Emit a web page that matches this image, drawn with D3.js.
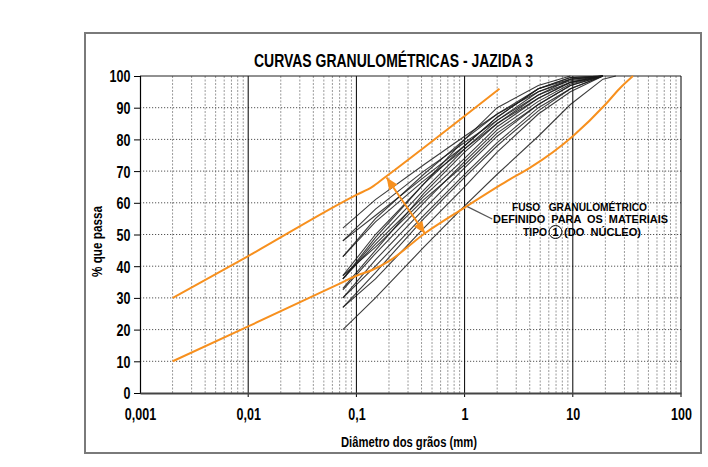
<!DOCTYPE html>
<html><head><meta charset="utf-8">
<script src="https://cdn.jsdelivr.net/npm/d3@7"></script>
<style>
html,body{margin:0;padding:0;background:#fff;}
svg text{font-family:"Liberation Sans Narrow","Arial Narrow","Liberation Sans",Arial,sans-serif;font-weight:bold;fill:#000;}
</style></head>
<body>
<svg id="chart" width="708" height="467"></svg>
<script>
// ---- data ----
const title = "CURVAS GRANULOMÉTRICAS - JAZIDA 3";
const xTickValues = [0.001, 0.01, 0.1, 1, 10, 100];
const xTickLabels = ["0,001", "0,01", "0,1", "1", "10", "100"];
const yTickValues = [0, 10, 20, 30, 40, 50, 60, 70, 80, 90, 100];
const xTitle = "Diâmetro dos grãos (mm)";
const yTitle = "% que passa";

// sieve sizes (mm) for the black curves
const sieves = [0.075, 0.15, 0.42, 1.0, 2.0, 4.8, 9.5, 19, 25];
const curve01 = [52, 61, 72, 81, 88, 95, 98.5, 100];
const curve02 = [48, 58, 70, 79, 86, 94, 98, 100];
const curve03 = [43, 55, 69, 80, 88, 96, 99, 100];
const curve04 = [37, 50, 66, 78, 87, 96, 99.5, 100];
const curve05 = [36, 48, 64, 77, 86, 95, 99, 100];
const curve06 = [36, 47, 62, 74, 84, 93, 98, 100];
const curve07 = [32.5, 44, 60, 73, 83, 92, 97.5, 100];
const curve08 = [30, 42, 58, 71, 81, 91, 97, 100];
const curve09 = [30, 40, 56, 69, 79, 90, 96, 100];
const curve10 = [27, 38, 55, 68, 78, 89, 96, 100];
const curve11 = [27, 36, 52, 65, 76, 88, 95, 100];
const curve12 = [20, 30, 46, 59, 69, 81, 91, 99, 100];
const curve13 = [36, 49, 66, 80, 90, 97, 100];
const curve14 = [43, 54, 67, 77, 85, 93, 98, 100];
const curve15 = [37, 46, 61, 72, 82, 91, 97, 100];
const curve16 = [33, 45, 63, 76, 85, 94, 99, 100];
const curve17 = [48, 56, 68, 78, 87, 96, 99.5, 100];
const curves = [curve01, curve02, curve03, curve04, curve05, curve06, curve07, curve08,
                curve09, curve10, curve11, curve12, curve13, curve14, curve15, curve16, curve17];

// grading envelope (fuso granulométrico)
const upperD = [0.002, 0.01, 0.1, 0.14, 0.18, 2.1];
const upperP = [30, 43.2, 62.5, 65, 67.8, 96];
const lowerD = [0.002, 0.01, 0.075, 0.1, 0.14, 0.2, 0.43, 1, 2.5, 4, 10, 20, 27, 36];
const lowerP = [10, 21, 35, 37, 38.8, 41.6, 50.4, 58.5, 67, 71, 81, 91, 96, 100];

// annotation arrow & leader
const arrowD = [0.19, 0.43];
const arrowP = [68.0, 50.3];
const leaderD = [1.06, 1.8];
const leaderP = [58.8, 54.9];
const noteLine1 = "FUSO   GRANULOMÉTRICO";
const noteLine2 = "DEFINIDO  PARA  OS  MATERIAIS";
const noteTipo = "TIPO";
const noteNum = "1";
const noteRest = "(DO  NÚCLEO)";

// ---- drawing ----
const svg = d3.select("#chart");
const orange = "#f7901e";
const fit = (sel, w) => sel.attr("textLength", w).attr("lengthAdjust", "spacingAndGlyphs");

const x = d3.scaleLog().domain([0.001, 100]).range([140, 681]);
const y = d3.scaleLinear().domain([0, 100]).range([393, 76]);

// outer frame
svg.append("rect").attr("x", 85).attr("y", 33).attr("width", 616).attr("height", 420)
  .attr("fill", "none").attr("stroke", "#7a7a7a").attr("stroke-width", 2);

// minor vertical gridlines
const minor = [];
for (let e = -3; e < 2; e++) for (let m = 2; m <= 9; m++) minor.push(m * Math.pow(10, e));
svg.append("g").selectAll("line").data(minor).join("line")
  .attr("x1", d => x(d)).attr("x2", d => x(d)).attr("y1", y(100)).attr("y2", y(0))
  .attr("stroke", "#9a9a9a").attr("stroke-width", 1).attr("stroke-dasharray", "2,1.5");

// horizontal gridlines
svg.append("g").selectAll("line").data(yTickValues.filter(v => v > 0 && v < 100)).join("line")
  .attr("x1", x(0.001)).attr("x2", x(100)).attr("y1", d => y(d)).attr("y2", d => y(d))
  .attr("stroke", "#555").attr("stroke-width", 1).attr("stroke-dasharray", "1.2,1.8");

// major vertical lines
svg.append("g").selectAll("line").data(xTickValues.slice(1, -1)).join("line")
  .attr("x1", d => x(d)).attr("x2", d => x(d)).attr("y1", y(100)).attr("y2", y(0) + 4)
  .attr("stroke", "#000").attr("stroke-width", 1);

// plot frame top & right
svg.append("line").attr("x1", x(0.001)).attr("x2", x(100)).attr("y1", y(100)).attr("y2", y(100))
  .attr("stroke", "#222").attr("stroke-width", 1);
svg.append("line").attr("x1", x(100)).attr("x2", x(100)).attr("y1", y(100)).attr("y2", y(0) + 4)
  .attr("stroke", "#000").attr("stroke-width", 1);

// y axis
const sx = 0.76;
const yAxis = d3.axisLeft(y).tickValues(yTickValues).tickSize(6).tickPadding(3).tickFormat(d3.format("d"));
const gy = svg.append("g").attr("transform", `translate(${x(0.001)},0)`).call(yAxis);
gy.select(".domain").attr("stroke", "#000").attr("stroke-width", 1.2);
gy.selectAll(".tick line").attr("stroke", "#000");
gy.selectAll(".tick text").attr("font-size", 16.5).attr("dy", "0.36em")
  .attr("x", -9.5 / sx).attr("transform", `scale(${sx},1)`)
  .style("font-family", '"Liberation Sans Narrow","Arial Narrow","Liberation Sans",sans-serif').style("font-weight", "bold");

// x axis
const xAxis = d3.axisBottom(x).tickValues(xTickValues).tickSize(0).tickPadding(15)
  .tickFormat((d, i) => xTickLabels[i]);
const gx = svg.append("g").attr("transform", `translate(0,${y(0)})`).call(xAxis);
gx.select(".domain").attr("stroke", "#444").attr("stroke-width", 2);
gx.selectAll(".tick text").attr("font-size", 16.5).attr("transform", `scale(${sx},1)`)
  .style("font-family", '"Liberation Sans Narrow","Arial Narrow","Liberation Sans",sans-serif').style("font-weight", "bold");

// black gradation curves
const line = d3.line().x(d => x(d[0])).y(d => y(d[1]));
svg.append("g").selectAll("path").data(curves).join("path")
  .attr("d", c => line(c.map((p, i) => [sieves[i], p])))
  .attr("fill", "none").attr("stroke", "#1a1a1a").attr("stroke-width", 1.1).attr("stroke-opacity", 0.85);

// envelope
const smooth = d3.line().x(d => x(d[0])).y(d => y(d[1])).curve(d3.curveMonotoneX);
svg.append("path").attr("d", smooth(upperD.map((d, i) => [d, upperP[i]])))
  .attr("fill", "none").attr("stroke", orange).attr("stroke-width", 2);
svg.append("path").attr("d", smooth(lowerD.map((d, i) => [d, lowerP[i]])))
  .attr("fill", "none").attr("stroke", orange).attr("stroke-width", 2);

// arrow
const ax1 = x(arrowD[0]), ay1 = y(arrowP[0]), ax2 = x(arrowD[1]), ay2 = y(arrowP[1]);
svg.append("line").attr("x1", ax1).attr("y1", ay1).attr("x2", ax2).attr("y2", ay2)
  .attr("stroke", orange).attr("stroke-width", 2);
function head(tx, ty, fx, fy) {
  const ang = Math.atan2(ty - fy, tx - fx), L = 12, W = 5;
  const bx = tx - L * Math.cos(ang), by = ty - L * Math.sin(ang);
  const px = -Math.sin(ang) * W, py = Math.cos(ang) * W;
  svg.append("path").attr("d", `M${tx},${ty}L${bx + px},${by + py}L${bx - px},${by - py}Z`).attr("fill", orange);
}
head(ax1, ay1, ax2, ay2);
head(ax2, ay2, ax1, ay1);

// leader
svg.append("line").attr("x1", x(leaderD[0])).attr("y1", y(leaderP[0]))
  .attr("x2", x(leaderD[1])).attr("y2", y(leaderP[1])).attr("stroke", "#555").attr("stroke-width", 1.2);

// note text
const nt = svg.append("g").style("font-size", "11.5px");
fit(nt.append("text").attr("x", 512).attr("y", 211).attr("xml:space", "preserve").text(noteLine1), 135);
fit(nt.append("text").attr("x", 493).attr("y", 223).attr("xml:space", "preserve").text(noteLine2), 175);
fit(nt.append("text").attr("x", 523).attr("y", 236).text(noteTipo), 24);
nt.append("text").attr("x", 555.5).attr("y", 236).attr("text-anchor", "middle").text(noteNum);
fit(nt.append("text").attr("x", 564).attr("y", 236).attr("xml:space", "preserve").text(noteRest), 77);
svg.append("circle").attr("cx", 555.5).attr("cy", 232).attr("r", 6.5)
  .attr("fill", "none").attr("stroke", "#000").attr("stroke-width", 1);

// titles
fit(svg.append("text").attr("x", 254).attr("y", 67).style("font-size", "18.5px").text(title), 279);
fit(svg.append("text").attr("x", 341).attr("y", 447).style("font-size", "14px").text(xTitle), 136);
fit(svg.append("text").attr("transform", "translate(102,277) rotate(-90)")
  .style("font-size", "14px").text(yTitle), 71);
</script>
</body></html>
